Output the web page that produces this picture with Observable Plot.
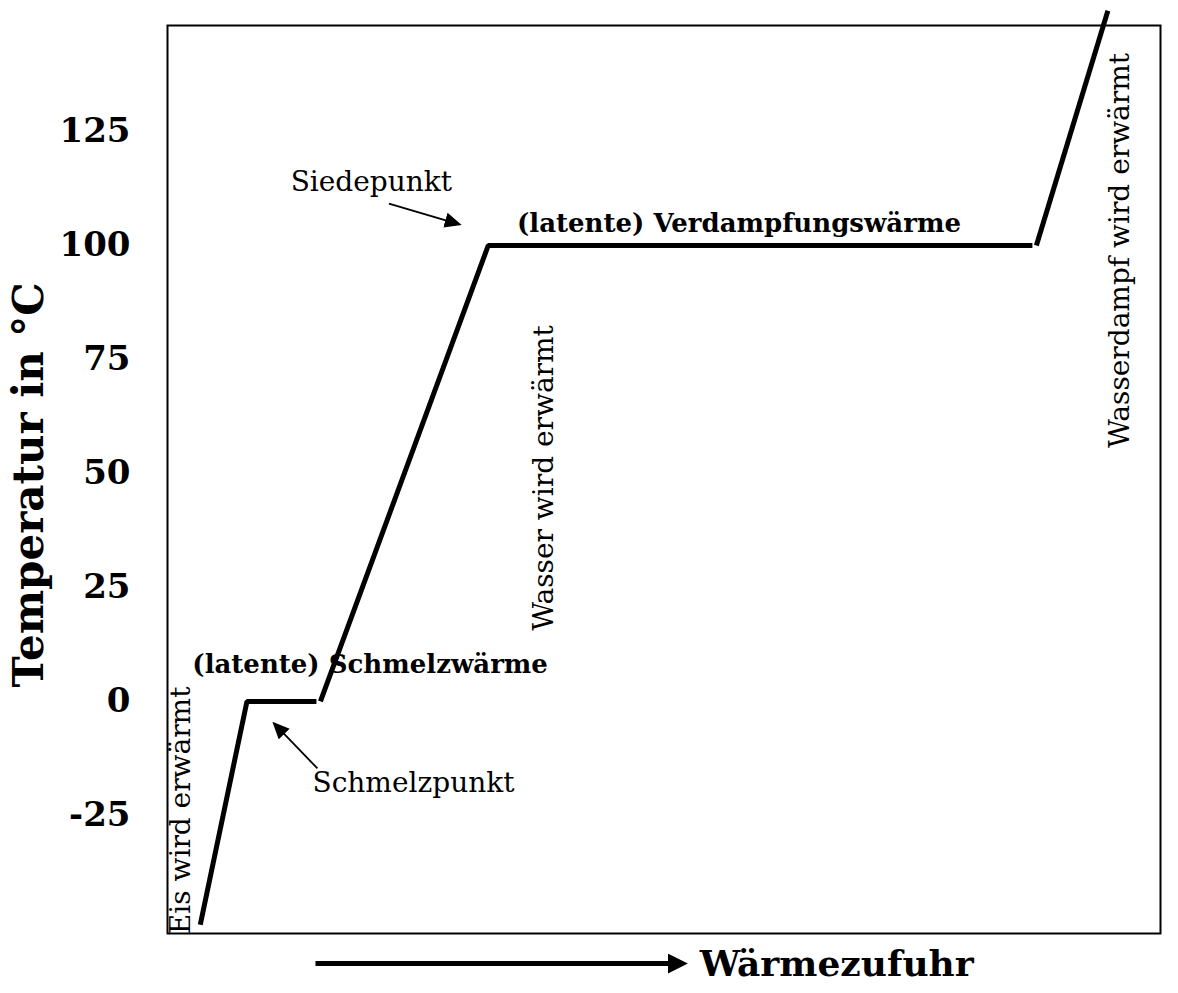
<!DOCTYPE html>
<html>
<head>
<meta charset="utf-8">
<script src="https://cdn.jsdelivr.net/npm/d3@7"></script>
<script src="https://cdn.jsdelivr.net/npm/@observablehq/plot@0.6"></script>
<style>
  html, body { margin: 0; padding: 0; background: #fff; }
</style>
</head>
<body>
<div id="chart"></div>
<script>
// ---- data ----
const xDomain = [0, 100];             // "Wärmezufuhr" (arbitrary units)
const yDomain = [-50.9, 148.25];      // Temperatur in °C
const yTicks = [-25, 0, 25, 50, 75, 100, 125];

// heating curve, drawn in three pieces
const segment     = ["A", "A", "A", "B", "B", "B", "C", "C"];
const heat        = [3.3, 8.0, 15.0, 15.4, 32.3, 87.1, 87.5, 94.7];
const temperature = [-49, 0, 0, 0, 100, 100, 100, 151.5];

// bold phase labels
const boldLabels = ["(latente) Schmelzwärme", "(latente) Verdampfungswärme"];
const boldX = [2.5, 35.2];
const boldY = [8, 104.8];

// plain point labels
const pointLabels = ["Siedepunkt", "Schmelzpunkt"];
const pointX = [12.4, 14.6];
const pointY = [114, -17.8];

// vertical labels
const vertLabels = ["Eis wird erwärmt", "Wasser wird erwärmt", "Wasserdampf wird erwärmt"];
const vertX = [1.4, 37.9, 95.9];
const vertY = [-23.9, 49.0, 98.9];

// annotation arrows (tail -> head)
const arrowX1 = [22.3, 15.1];
const arrowY1 = [109.2, -14.7];
const arrowX2 = [29.3, 10.8];
const arrowY2 = [104.7, -5.0];

// x-axis arrow and label
const xArrowX = [14.9, 51.6];
const xArrowY = -57.5;
const xLabel = "Wärmezufuhr";
const xLabelX = 53.6;
const xLabelY = -57.8;

// y-axis title (rotated)
const yLabel = "Temperatur in °C";
const yLabelX = -13.9;
const yLabelY = 47.5;

// ---- build tables ----
const curve = heat.map((h, i) => ({heat: h, temp: temperature[i], seg: segment[i]}));
const bold = boldLabels.map((t, i) => ({t, x: boldX[i], y: boldY[i]}));
const points = pointLabels.map((t, i) => ({t, x: pointX[i], y: pointY[i]}));
const verts = vertLabels.map((t, i) => ({t, x: vertX[i], y: vertY[i]}));
const arrows = arrowX1.map((x1, i) => ({x1, y1: arrowY1[i], x2: arrowX2[i], y2: arrowY2[i]}));
const xArrow = [{x1: xArrowX[0], x2: xArrowX[1], y: xArrowY}];
const titles = [
  {t: xLabel, x: xLabelX, y: xLabelY, r: 0},
  {t: yLabel, x: yLabelX, y: yLabelY, r: -90}
];

const FONT = "DejaVu Serif";

const chart = Plot.plot({
  width: 1178,
  height: 993,
  marginLeft: 167,
  marginRight: 18,
  marginTop: 25,
  marginBottom: 60,
  x: {domain: xDomain, axis: null},
  y: {domain: yDomain, axis: null},
  style: {fontFamily: FONT, color: "black", background: "white", overflow: "visible"},
  marks: [
    Plot.frame({stroke: "black", strokeWidth: 2}),
    Plot.axisY({
      ticks: yTicks, tickSize: 0, tickPadding: 37, tickFormat: d => String(d),
      fontSize: 34, fontWeight: "bold", fontFamily: FONT, fill: "black", label: null
    }),
    Plot.text(titles.filter(d => d.r === 0), {
      x: "x", y: "y", text: "t", textAnchor: "start", lineAnchor: "middle",
      fontSize: 36, fontWeight: "bold", fontFamily: FONT, fill: "black"
    }),
    Plot.text(titles.filter(d => d.r !== 0), {
      x: "x", y: "y", text: "t", rotate: -90, textAnchor: "middle", lineAnchor: "middle",
      fontSize: 42, fontWeight: "bold", fontFamily: FONT, fill: "black"
    }),
    Plot.line(curve, {
      x: "heat", y: "temp", z: "seg", stroke: "black", strokeWidth: 5,
      strokeLinejoin: "miter", strokeLinecap: "butt"
    }),
    Plot.text(bold, {
      x: "x", y: "y", text: "t", textAnchor: "start", lineAnchor: "middle",
      fontSize: 26, fontWeight: "bold", fontFamily: FONT, fill: "black"
    }),
    Plot.text(points, {
      x: "x", y: "y", text: "t", textAnchor: "start", lineAnchor: "middle",
      fontSize: 28, fontFamily: FONT, fill: "black"
    }),
    Plot.text(verts, {
      x: "x", y: "y", text: "t", rotate: -90, textAnchor: "middle", lineAnchor: "middle",
      fontSize: 28, fontFamily: FONT, fill: "black"
    }),
    Plot.link(arrows, {
      x1: "x1", y1: "y1", x2: "x2", y2: "y2", stroke: "black", strokeWidth: 1.8
    }),
    Plot.link(xArrow, {
      x1: "x1", x2: "x2", y1: "y", y2: "y", stroke: "black", strokeWidth: 5
    })
  ]
});

// filled arrowheads
const svgSel = d3.select(chart);
const defs = svgSel.insert("defs", ":first-child");
function addHead(id, size, refX, half) {
  defs.append("marker")
    .attr("id", id)
    .attr("viewBox", "-10 -5 10 10")
    .attr("refX", refX).attr("refY", 0)
    .attr("markerWidth", size).attr("markerHeight", size)
    .attr("markerUnits", "userSpaceOnUse")
    .attr("orient", "auto")
    .append("path")
    .attr("d", `M-10,${-half}L0,0L-10,${half}Z`)
    .attr("fill", "black").attr("stroke", "none");
}
addHead("head-small", 17, -2, 4.5);
addHead("head-big", 20, -4, 5);
const linkGroups = svgSel.selectAll('g[aria-label="link"]').nodes();
if (linkGroups[0]) d3.select(linkGroups[0]).selectAll("path, line").attr("marker-end", "url(#head-small)");
if (linkGroups[1]) d3.select(linkGroups[1]).selectAll("path, line").attr("marker-end", "url(#head-big)");

document.getElementById("chart").appendChild(chart);
</script>
</body>
</html>
